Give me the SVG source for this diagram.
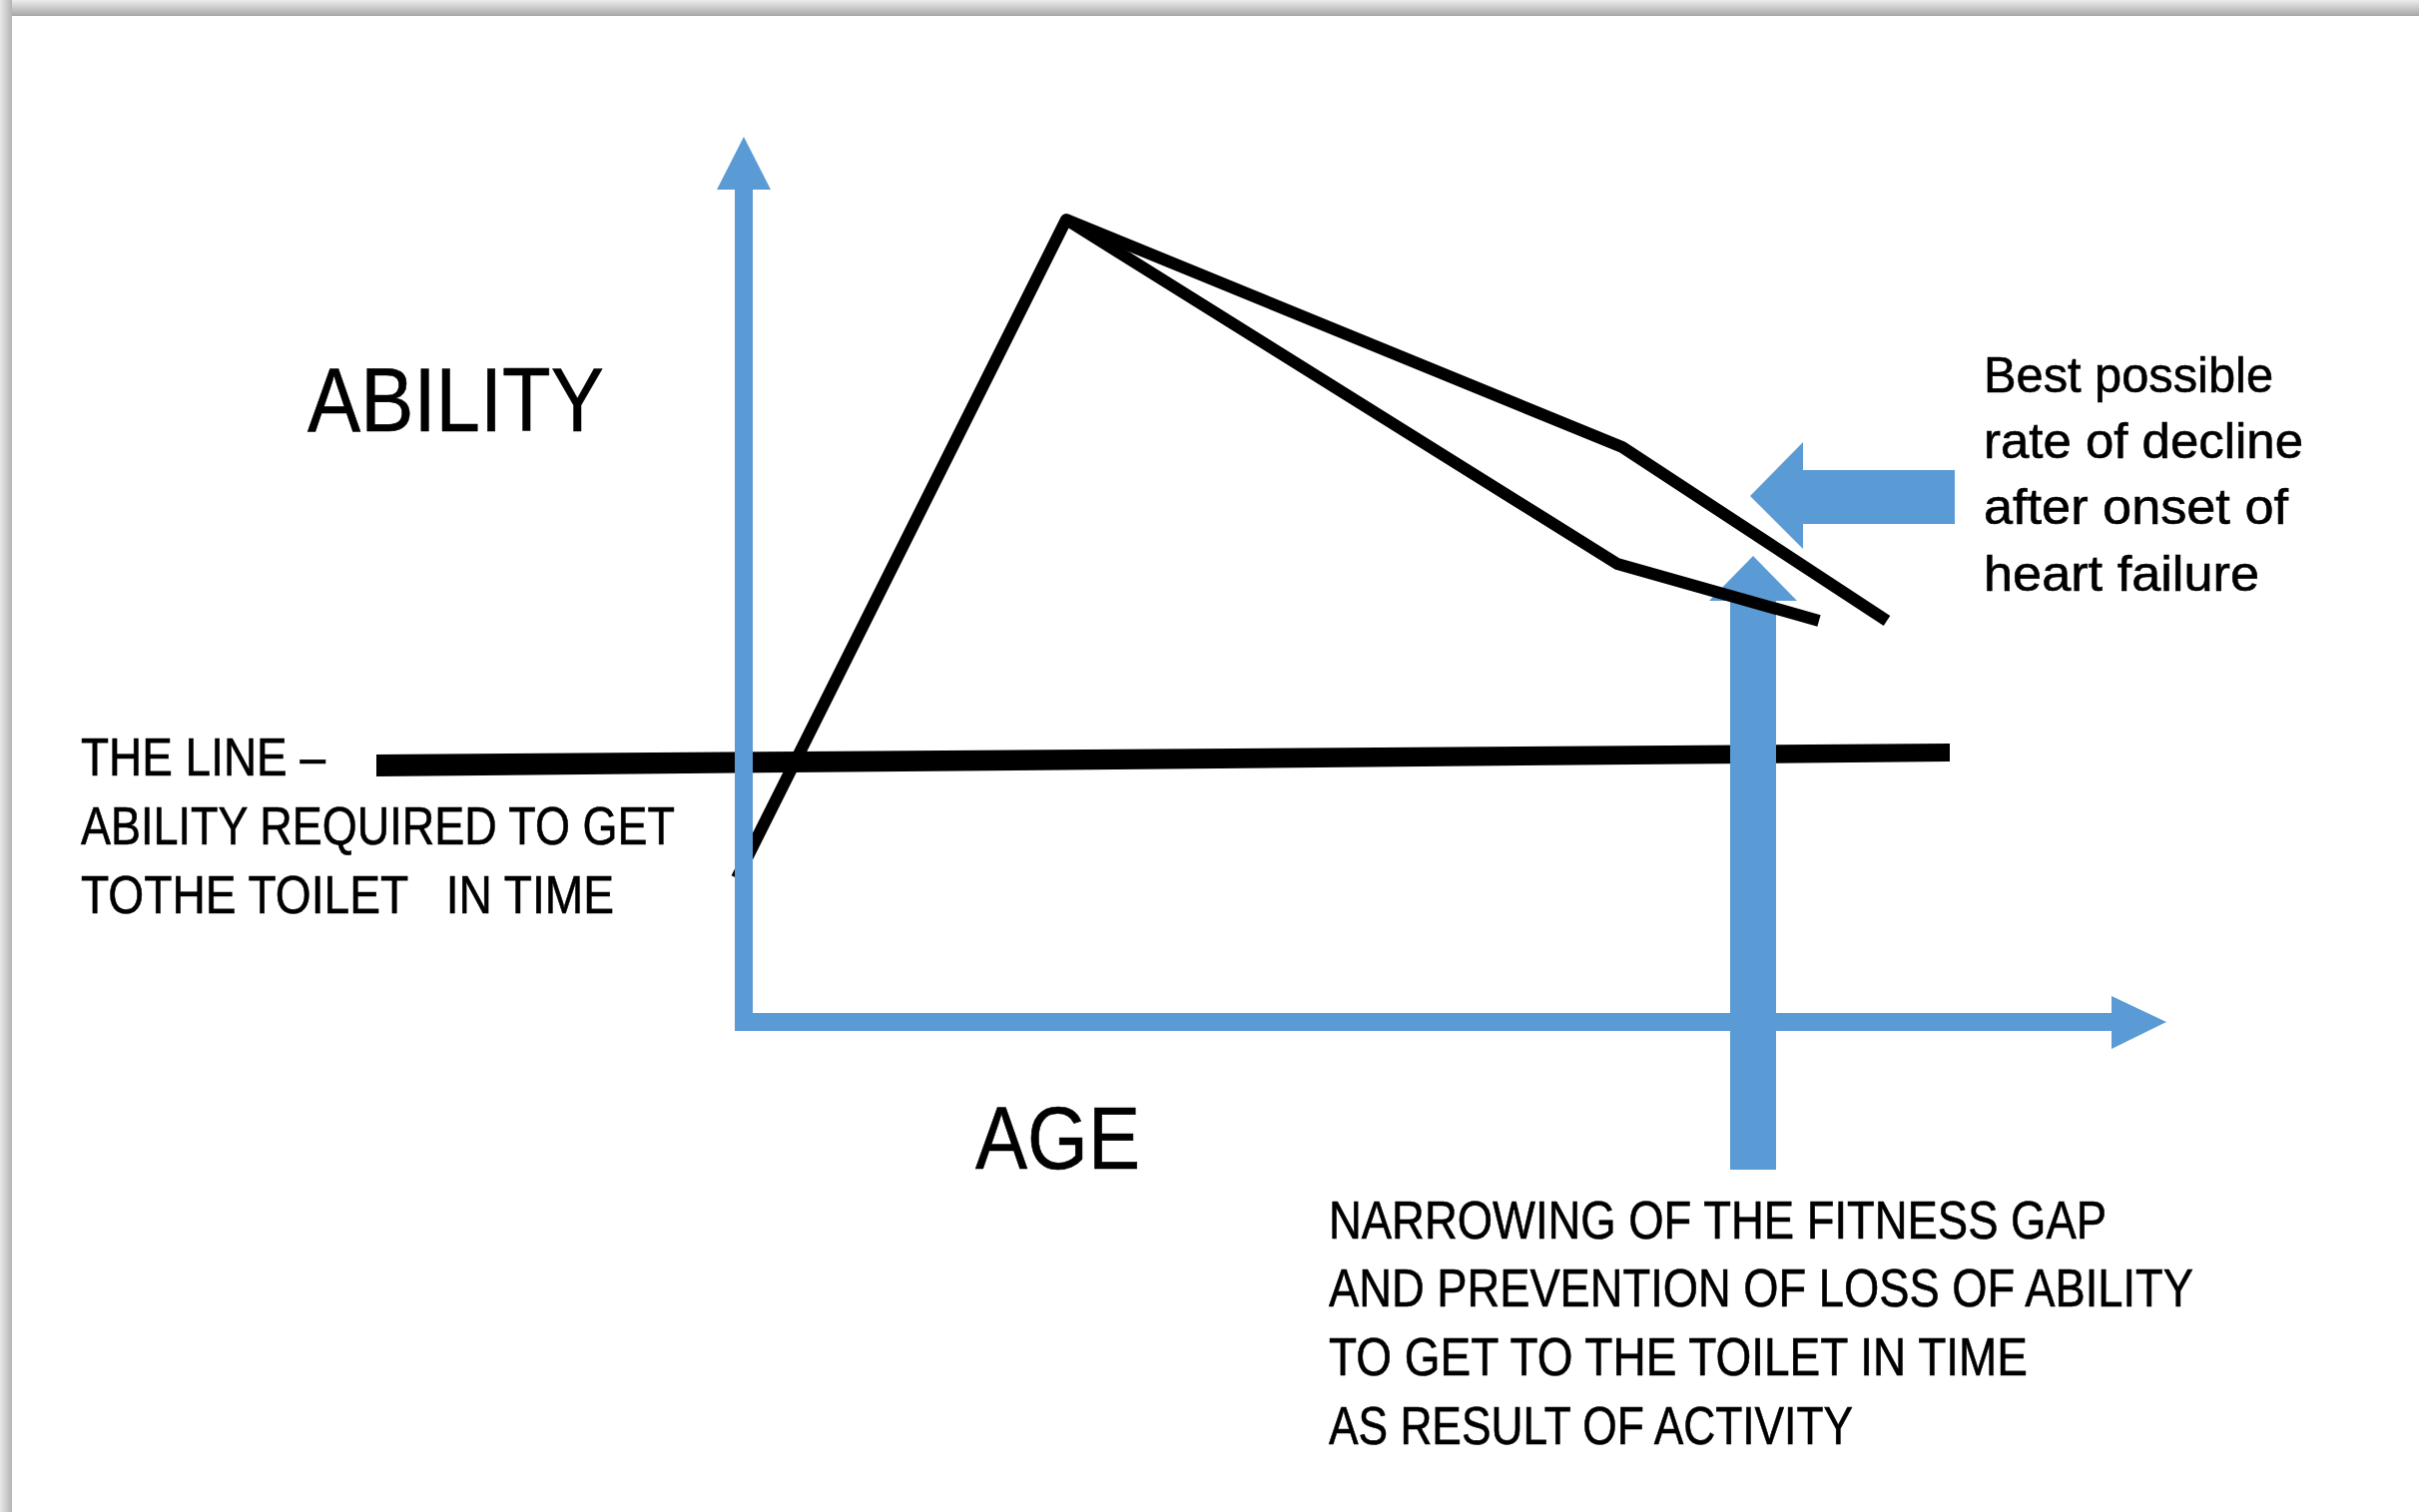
<svg xmlns="http://www.w3.org/2000/svg" width="2423" height="1515" viewBox="0 0 2423 1515">
  <defs>
    <linearGradient id="shadowTop" x1="0" y1="0" x2="0" y2="1">
      <stop offset="0" stop-color="#ececec"/>
      <stop offset="1" stop-color="#a6a6a6"/>
    </linearGradient>
    <linearGradient id="shadowLeft" x1="0" y1="0" x2="1" y2="0">
      <stop offset="0" stop-color="#e8e8e8"/>
      <stop offset="1" stop-color="#b4b4b4"/>
    </linearGradient>
    <style>
      .blue { fill: #5b9bd5; }
      .curve { fill: none; stroke: #000; stroke-width: 12; stroke-linejoin: round; stroke-linecap: butt; }
      .lbl { font-family: "Liberation Sans", Arial, sans-serif; fill: #000; stroke: #000; stroke-width: 0.6; }
      .big { font-size: 90px; }
      .mid { font-size: 54px; }
      .sm { font-size: 50px; }
    </style>
  </defs>

  <g id="background">
    <rect x="0" y="0" width="2423" height="1515" fill="#ffffff"/>
    <rect x="0" y="0" width="2423" height="16" fill="url(#shadowTop)"/>
    <rect x="0" y="0" width="12" height="1515" fill="url(#shadowLeft)"/>
  </g>

  <g id="connectors">
    <g id="the-line">
      <polygon points="377,756 1953,745 1953,763 377,778" fill="#000"/>
    </g>
    <g id="activity-arrow">
      <polygon class="blue" points="1733,1172 1733,602 1712,602 1756,557 1800,602 1779,602 1779,1172"/>
    </g>
    <g id="decline-arrow">
      <polygon class="blue" points="1958,471 1806,471 1806,443 1753,497 1806,550 1806,525 1958,525"/>
    </g>
    <g id="ability-curves">
      <polyline class="curve" points="738,880 1068,220 1625,448 1890,622"/>
      <polyline class="curve" points="1068,220 1620,565 1822,622"/>
    </g>
    <g id="axes">
      <polygon class="blue" points="736,1033 736,190 718,190 745,137 772,190 754,190 754,1015 2115,1015 2115,998 2170,1024 2115,1051 2115,1033"/>
    </g>
  </g>

  <g id="label-ability">
    <text class="lbl big" x="308" y="432" textLength="297" lengthAdjust="spacingAndGlyphs">ABILITY</text>
  </g>
  <g id="label-age">
    <text class="lbl" style="font-size:89px" x="977" y="1171" textLength="165" lengthAdjust="spacingAndGlyphs">AGE</text>
  </g>
  <g id="label-the-line">
    <text class="lbl mid" x="81" y="777" textLength="245" lengthAdjust="spacingAndGlyphs">THE LINE –</text>
    <text class="lbl mid" x="81" y="846" textLength="595" lengthAdjust="spacingAndGlyphs">ABILITY REQUIRED TO GET</text>
    <text class="lbl mid" x="81" y="915" textLength="534" lengthAdjust="spacingAndGlyphs" xml:space="preserve" style="white-space:pre">TOTHE TOILET   IN TIME</text>
  </g>
  <g id="label-best-rate">
    <text class="lbl sm" x="1987" y="393" textLength="290" lengthAdjust="spacingAndGlyphs">Best possible</text>
    <text class="lbl sm" x="1987" y="459" textLength="320" lengthAdjust="spacingAndGlyphs">rate of decline</text>
    <text class="lbl sm" x="1987" y="525" textLength="305" lengthAdjust="spacingAndGlyphs">after onset of</text>
    <text class="lbl sm" x="1987" y="592" textLength="276" lengthAdjust="spacingAndGlyphs">heart failure</text>
  </g>
  <g id="label-narrowing">
    <text class="lbl" style="font-size:53px" x="1331" y="1241" textLength="779" lengthAdjust="spacingAndGlyphs">NARROWING OF THE FITNESS GAP</text>
    <text class="lbl" style="font-size:53px" x="1331" y="1309" textLength="866" lengthAdjust="spacingAndGlyphs">AND PREVENTION OF LOSS OF ABILITY</text>
    <text class="lbl" style="font-size:53px" x="1331" y="1378" textLength="700" lengthAdjust="spacingAndGlyphs">TO GET TO THE TOILET IN TIME</text>
    <text class="lbl" style="font-size:53px" x="1331" y="1447" textLength="525" lengthAdjust="spacingAndGlyphs">AS RESULT OF ACTIVITY</text>
  </g>
</svg>
